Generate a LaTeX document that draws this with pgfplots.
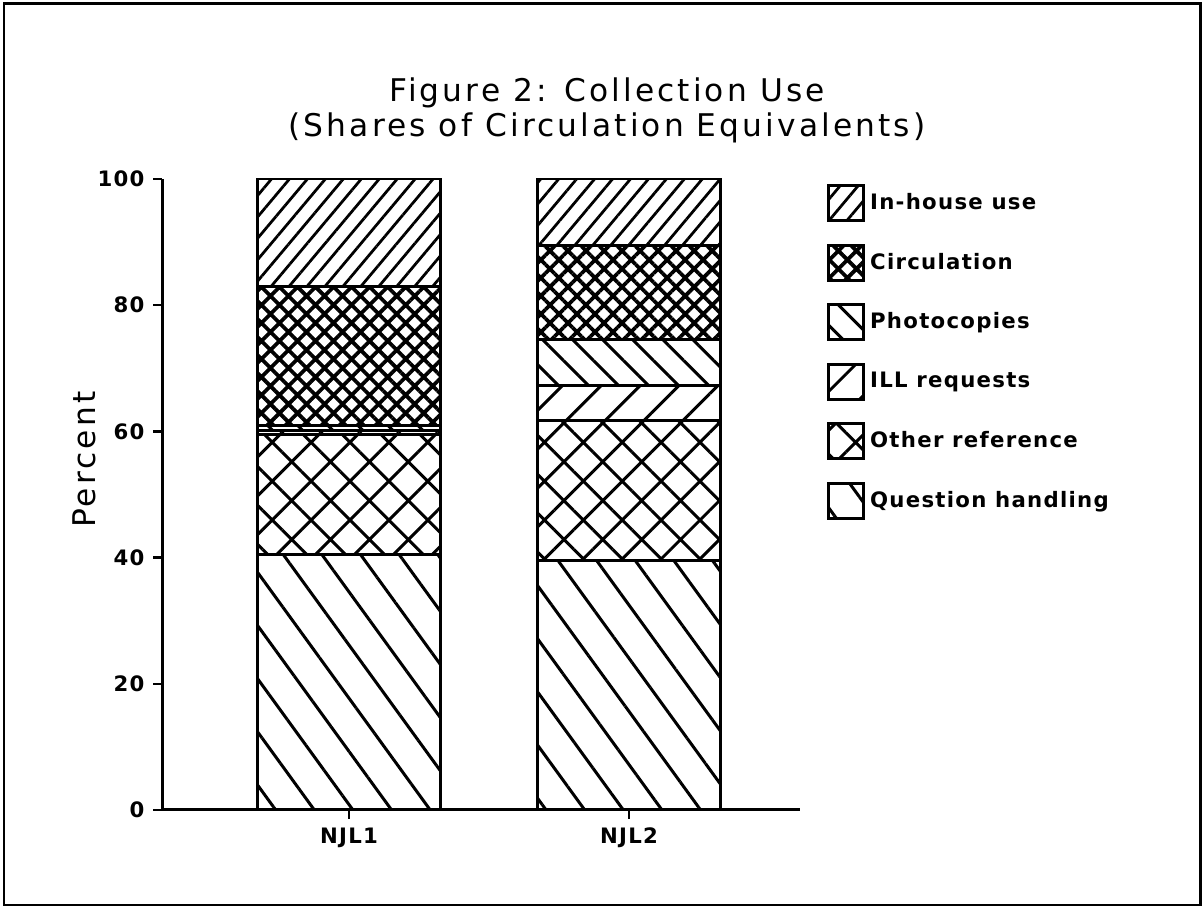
\documentclass[border=0pt]{standalone}
\usepackage{fontspec}
\setmainfont{DejaVu Sans}
\usepackage{pgfplots}
\usepackage{pgfplotstable}
\pgfplotsset{compat=1.18}
\usetikzlibrary{patterns.meta}
\newfontfamily\titlefont[LetterSpace=10]{DejaVu Sans}
\newfontfamily\lblfont[LetterSpace=6]{DejaVu Sans}

\pgfplotstableread{
x QH OR ILL PH CI IH
1 40.5 19.0 0.7 0.8 22.0 17.0
2 39.5 22.3 5.4 7.4 14.9 10.5
}\datatable

\begin{document}
\begin{tikzpicture}
\useasboundingbox (0,0) rectangle (481.6pt,363.6pt);
\draw[line width=1pt] (1.5pt,1.5pt) rectangle (480.1pt,362.1pt);
\node[align=center, font=\titlefont\fontsize{12.5}{14}\selectfont] at (242.8pt,319.5pt)
  {Figure 2: Collection Use\\(Shares of Circulation Equivalents)};
\begin{axis}[
  at={(64.8pt,39.6pt)}, anchor=south west,
  scale only axis, width=255.2pt, height=252.4pt,
  ybar stacked, bar width=73.2pt,
  xmin=0.332, xmax=2.611, ymin=0, ymax=100,
  axis x line=bottom, axis y line=left,
  axis line style={-, line width=1.2pt},
  tick align=outside, major tick length=3.5pt,
  every tick/.style={black, line width=1pt},
  xtick={1,2}, xticklabels={NJL1,NJL2},
  ytick={0,20,40,60,80,100},
  /pgf/number format/assume math mode=true,
  ticklabel style={font=\lblfont\bfseries\fontsize{8.5}{10}\selectfont},
  ylabel={Percent},
  ylabel style={font=\titlefont\fontsize{12.5}{15}\selectfont, at={(axis description cs:-0.121,0.555)}, anchor=center, rotate=0},
  reverse legend,
  legend style={at={(axis description cs:1.03,1.0)}, anchor=north west, draw=none, fill=none,
    font=\lblfont\bfseries\fontsize{8.5}{10}\selectfont, row sep=8.6pt,
    /tikz/every even column/.append style={column sep=2pt}},
  legend cell align=left,
  every axis plot/.append style={draw=black, line width=1.2pt},
  legend image code/.code={\draw[#1, line width=1.2pt] (0pt,-7pt) rectangle (14pt,7pt);},
]
\addplot[pattern={Lines[angle=-54,distance=12.5pt,line width=1.2pt]}] table[x=x,y=QH]{\datatable};
\addplot[pattern={Hatch[angle=45,distance=11pt,line width=1.2pt]}] table[x=x,y=OR]{\datatable};
\addplot[pattern={Lines[angle=45,distance=11pt,line width=1.2pt]}] table[x=x,y=ILL]{\datatable};
\addplot[pattern={Lines[angle=-45,distance=8.5pt,line width=1.2pt]}] table[x=x,y=PH]{\datatable};
\addplot[pattern={Hatch[angle=45,distance=5.1pt,line width=1.5pt]}] table[x=x,y=CI]{\datatable};
\addplot[pattern={Lines[angle=50,distance=5.5pt,line width=1.1pt]}] table[x=x,y=IH]{\datatable};
\legend{Question handling,Other reference,ILL requests,Photocopies,Circulation,In-house use}
\end{axis}
\end{tikzpicture}
\end{document}
